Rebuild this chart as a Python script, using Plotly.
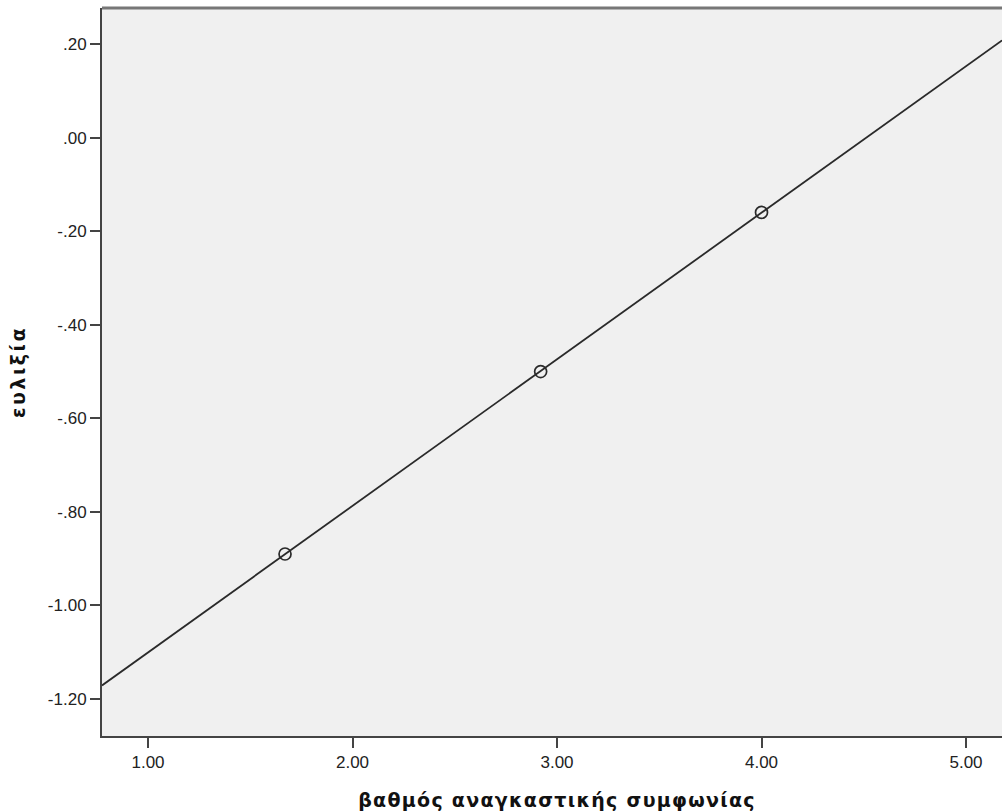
import numpy as np
import plotly.graph_objects as go

# Observed values
agreement = [1.67, 2.92, 4.00]      # βαθμός αναγκαστικής συμφωνίας
flexibility = [-0.89, -0.50, -0.16]  # ευλιξία

x_ticks = [1, 2, 3, 4, 5]
x_tick_text = ["1.00", "2.00", "3.00", "4.00", "5.00"]
y_ticks = [0.2, 0.0, -0.2, -0.4, -0.6, -0.8, -1.0, -1.2]
y_tick_text = [".20", ".00", "-.20", "-.40", "-.60", "-.80", "-1.00", "-1.20"]

x_range = [0.775, 5.176]
y_range = [-1.279, 0.277]

# Least-squares fit line across the full x range
slope, intercept = np.polyfit(agreement, flexibility, 1)
fit_x = np.array(x_range)
fit_y = slope * fit_x + intercept

fig = go.Figure()
fig.add_trace(go.Scatter(
    x=fit_x, y=fit_y, mode="lines",
    line=dict(color="#2a2a2a", width=1.8),
    hoverinfo="skip", showlegend=False,
))
fig.add_trace(go.Scatter(
    x=agreement, y=flexibility, mode="markers",
    marker=dict(symbol="circle-open", size=12, color="#2a2a2a",
                line=dict(width=1.7, color="#2a2a2a")),
    showlegend=False,
))

tick_font = dict(family="Liberation Sans, Arial, sans-serif", size=17, color="#222222")
title_font = dict(family="DejaVu Sans, Verdana, sans-serif", size=19, color="#111111")

fig.update_layout(
    width=1002, height=812,
    margin=dict(l=102, r=0, t=8, b=76),
    paper_bgcolor="white",
    plot_bgcolor="#F0F0F0",
    xaxis=dict(
        range=x_range, tickvals=x_ticks, ticktext=x_tick_text,
        showgrid=False, zeroline=False,
        showline=True, linecolor="#444444", linewidth=2,
        ticks="outside", ticklen=10, tickwidth=2, tickcolor="#444444",
        tickfont=tick_font,
    ),
    yaxis=dict(
        range=y_range, tickvals=y_ticks, ticktext=y_tick_text,
        showgrid=False, zeroline=False,
        showline=True, linecolor="#444444", linewidth=2,
        ticks="outside", ticklen=10, tickwidth=2, tickcolor="#444444",
        tickfont=tick_font,
    ),
    shapes=[dict(
        type="line", xref="paper", yref="paper",
        x0=0, x1=1, y0=1, y1=1,
        line=dict(color="#777777", width=3),
    )],
    annotations=[
        dict(text="<b>βαθμός αναγκαστικής συμφωνίας</b>",
             xref="paper", yref="paper", x=0.5056, y=-0.088,
             xanchor="center", yanchor="middle", showarrow=False,
             font=title_font),
        dict(text="<b>ευλιξία</b>", textangle=-90,
             xref="paper", yref="paper", x=-0.093, y=0.5,
             xanchor="center", yanchor="middle", showarrow=False,
             font=title_font),
    ],
)

# Axis titles get a little extra letter spacing
spacing_js = """
var gd = document.getElementById('{plot_id}');
var titles = gd.querySelectorAll('.annotation-text');
var spacing = ['1.3px', '2.5px'];
titles.forEach(function (t, i) {
    t.style.letterSpacing = spacing[i] || '1.3px';
});
"""

fig.write_html("out.html", post_script=spacing_js)
